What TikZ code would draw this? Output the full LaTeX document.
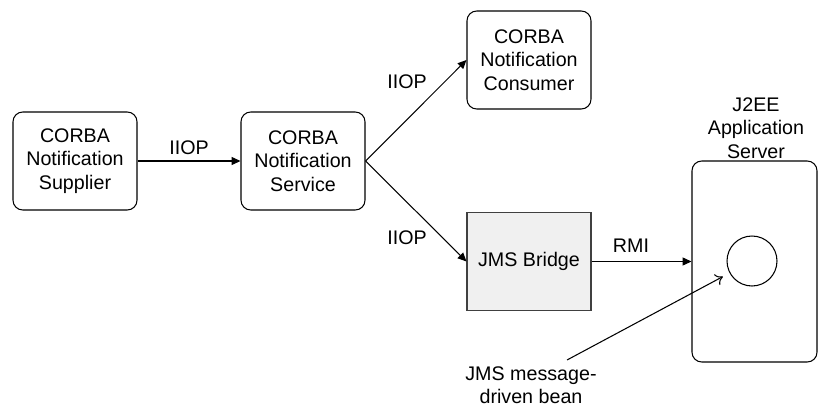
\documentclass[tikz,border=0pt]{standalone}
\usepackage{fontspec}
\setmainfont{Liberation Sans}
\usetikzlibrary{arrows.meta}
\tikzset{
    box/.style ={
        rectangle,
        rounded corners =5.5pt,
        minimum width =2.48cm,
        minimum height =1.96cm,
        inner sep=2pt,
        align=center,
        draw=black
    },
    lbl/.style ={inner sep=0pt, align=center}
}

\begin{document}
\begin{tikzpicture}[x=0.02cm,y=-0.02cm,line width=0.6pt,
    font=\fontsize{11.2}{13.3}\selectfont,
    >={Triangle[length=5pt,width=4.5pt]}]
        \useasboundingbox (0,0) rectangle (818,409);

        \node[box] (SUPPLIER) at(75,161) {CORBA\\Notification\\Supplier};
        \node[box] (SERVICE) at(303,161) {CORBA\\Notification\\Service};
        \node[box] (CONSUMER) at(529,60) {CORBA\\Notification\\Consumer};
        \node[box, rounded corners=0pt, fill=gray!12, draw=black!75] (BRIDGE) at(529,261.5) {JMS Bridge};
        \node[box, minimum width=2.5cm, minimum height=4.02cm] (APPSERVER) at(754.5,261.5) {};
        \node[lbl] (APPNAME) at(756,128) {J2EE\\Application\\Server};
        \node[circle, draw, minimum size=1cm, inner sep=0pt] (BEAN) at(752,261) {};
        \node[lbl] (MDB) at(531,385) {JMS message-\\driven bean};
        \coordinate (MDBTAIL) at(567,360);

        \node[lbl] (L1) at(189,148) {IIOP};
        \node[lbl] (L2) at(407,82) {IIOP};
        \node[lbl] (L3) at(407,238) {IIOP};
        \node[lbl] (L4) at(631,246) {RMI};

        \draw[->] (SUPPLIER)--(SERVICE);
        \draw[->] (SERVICE.east)--(CONSUMER.west);
        \draw[->] (SERVICE.east)--(BRIDGE.west);
        \draw[->] (BRIDGE)--(APPSERVER);
        \draw[-{To[length=4pt,width=7pt]}, shorten >=1.5mm] (MDBTAIL)--(BEAN);
    \end{tikzpicture}
\end{document}
